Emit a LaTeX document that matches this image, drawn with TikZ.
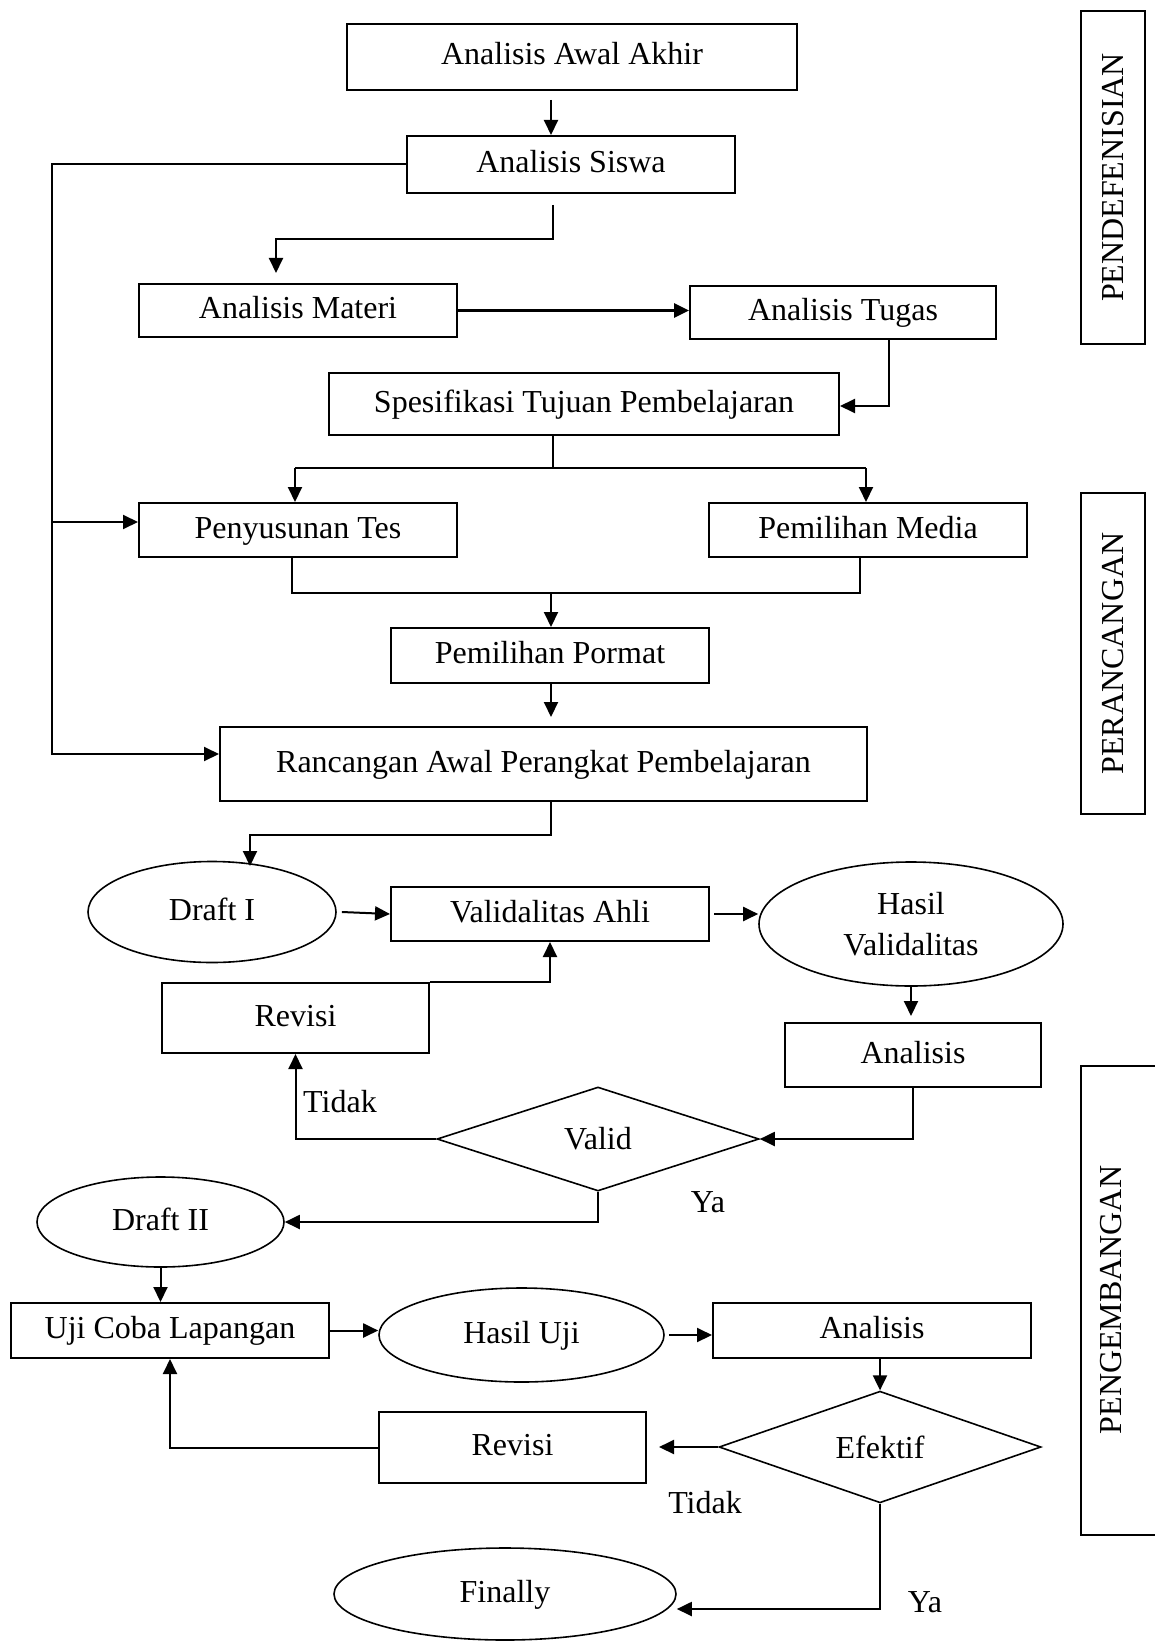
\documentclass[tikz,border=0pt]{standalone}
\usepackage{fontspec}
\setmainfont{Liberation Serif}
\usetikzlibrary{arrows.meta,shapes.geometric}
\begin{document}
\begin{tikzpicture}[x=0.5pt,y=-0.5pt,
  every node/.style={font=\fontsize{16}{20.5}\selectfont},
  box/.style={draw, line width=1pt, rectangle, inner sep=0pt, text height=12pt, text depth=4pt},
  oval/.style={draw, line width=0.8pt, ellipse, inner sep=0pt, text height=12pt, text depth=4pt},
  decide/.style={draw, line width=0.8pt, diamond, inner sep=0pt},
  arr/.style={line width=1pt, -{Triangle[length=7.5pt,width=7pt]}},
  conn/.style={line width=1pt},
  side/.style={draw, line width=1pt, rotate=90, inner sep=0pt},
  lbl/.style={inner sep=0pt}]
\fill[white] (0,0) rectangle (1155,1642);
\useasboundingbox (0,0) rectangle (1155,1642);

% boxes
\node[box, minimum width=225pt, minimum height=33pt] (awal) at (572,57) {Analisis Awal Akhir};
\node[box, minimum width=164pt, minimum height=28.5pt] (siswa) at (571,164.5) {Analisis Siswa};
\node[box, minimum width=159pt, minimum height=26.5pt] (materi) at (298,310.5) {Analisis Materi};
\node[box, minimum width=153pt, minimum height=26.5pt] (tugas) at (843,312.5) {Analisis Tugas};
\node[box, minimum width=255pt, minimum height=31pt] (spes) at (584,404) {Spesifikasi Tujuan Pembelajaran};
\node[box, minimum width=159pt, minimum height=27pt] (tes) at (298,530) {Penyusunan Tes};
\node[box, minimum width=159pt, minimum height=27pt] (media) at (868,530) {Pemilihan Media};
\node[box, minimum width=159pt, minimum height=27.5pt] (pormat) at (550,655.5) {Pemilihan Pormat};
\node[box, minimum width=323.5pt, minimum height=37pt] (rancang) at (543.5,764) {Rancangan Awal Perangkat Pembelajaran};
\node[oval, minimum width=124pt, minimum height=50.5pt] (draft1) at (212,912) {Draft I};
\node[box, minimum width=159pt, minimum height=27pt] (valid) at (550,914) {Validalitas Ahli};
\node[draw, line width=0.8pt, ellipse, inner sep=0pt, minimum width=152pt, minimum height=62pt, align=center] (hasilv) at (911,924) {Hasil\\Validalitas};
\node[box, minimum width=128pt, minimum height=32pt] (analisis1) at (913,1055) {Analisis};
\node[decide, minimum width=161pt, minimum height=52pt] (validd) at (598,1139) {Valid};
\node[box, minimum width=133.5pt, minimum height=35pt] (revisi1) at (295.5,1018) {Revisi};
\node[oval, minimum width=123.5pt, minimum height=45pt] (draft2) at (160.5,1222) {Draft II};
\node[box, minimum width=159pt, minimum height=27.5pt] (uji) at (170,1330.5) {Uji Coba Lapangan};
\node[oval, minimum width=142.5pt, minimum height=47pt] (hasilu) at (521.5,1335) {Hasil Uji};
\node[box, minimum width=159pt, minimum height=27.5pt] (analisis2) at (872,1330.5) {Analisis};
\node[decide, minimum width=161pt, minimum height=52pt] (efektif) at (880,1447) {Efektif};
\node[box, minimum width=133.5pt, minimum height=35.5pt] (revisi2) at (512.5,1447.5) {Revisi};
\node[oval, minimum width=171pt, minimum height=46pt] (finally) at (505,1594) {Finally};

% labels
\node[lbl] (tidak1) at (340,1102) {Tidak};
\node[lbl] (ya1) at (708,1202) {Ya};
\node[lbl] (tidak2) at (705,1503) {Tidak};
\node[lbl] (ya2) at (925,1602) {Ya};

% side phases
\node[side, minimum width=166.5pt, minimum height=32pt] (pendef) at (1113,177.5) {PENDEFENISIAN};
\node[side, minimum width=160.5pt, minimum height=32pt] (peranc) at (1113,653.5) {PERANCANGAN};
\node[draw, line width=1pt, minimum width=42pt, minimum height=234.5pt, inner sep=0pt] (pengbox) at (1123,1300.5) {};
\node[rotate=90] (pengem) at (1111,1300) {PENGEMBANGAN};

% connectors
\coordinate (a1) at (551,100);
\draw[arr] (a1) -- (a1 |- siswa.north);
\coordinate (bus1) at (52,164.5);
\coordinate (bus2) at (52,522);
\coordinate (bus3) at (52,754);
\draw[arr] (siswa.west) -- (bus1) -- (bus3) -- (bus3 -| rancang.west);
\draw[arr] (bus2) -- (bus2 -| tes.west);
\coordinate (b1) at (553,205);
\coordinate (b2) at (276,239);
\coordinate (b3) at (276,273);
\draw[arr] (b1) -- (b1 |- b2) -- (b2) -- (b3);
\draw[arr, line width=1.5pt] (materi.east) -- (materi.east -| tugas.west);
\coordinate (e1) at (889,406);
\draw[arr] (e1 |- tugas.south) -- (e1) -- (e1 -| spes.east);
\coordinate (f1) at (553,468);
\coordinate (f2) at (295,468);
\coordinate (f3) at (866,468);
\draw[conn] (f1 |- spes.south) -- (f1);
\draw[conn] (f2) -- (f3);
\draw[arr] (f2) -- (f2 |- tes.north);
\draw[arr] (f3) -- (f3 |- media.north);
\coordinate (g1) at (292,593);
\coordinate (g2) at (860,593);
\coordinate (g3) at (551,593);
\draw[conn] (g1 |- tes.south) -- (g1) -- (g2) -- (g2 |- media.south);
\draw[arr] (g3) -- (g3 |- pormat.north);
\coordinate (h1) at (551,717);
\draw[arr] (h1 |- pormat.south) -- (h1);
\coordinate (i1) at (551,835);
\coordinate (i2) at (250,835);
\coordinate (i3) at (250,866);
\draw[arr] (i1 |- rancang.south) -- (i1) -- (i2) -- (i3);
\draw[arr] ([xshift=2.5pt]draft1.east) -- (valid.west);
\draw[arr] ([xshift=2pt]valid.east) -- (valid.east -| hasilv.west);
\coordinate (l1) at (911,1016);
\draw[arr] (hasilv.south) -- (l1);
\coordinate (m1) at (913,1139);
\draw[arr] (analisis1.south) -- (m1) -- (validd.east);
\draw[arr] (validd.west) -| (revisi1.south);
\draw[arr] (revisi1.north east) -| (valid.south);
\draw[arr] (validd.south) |- (draft2.east);
\draw[arr] (draft2.south) -- (draft2.south |- uji.north);
\draw[arr] (uji.east) -- (uji.east -| hasilu.west);
\draw[arr] ([xshift=2pt]hasilu.east) -- (hasilu.east -| analisis2.west);
\draw[arr] (efektif.north |- analisis2.south) -- (efektif.north);
\draw[arr, shorten >=6pt] (efektif.west) -- (efektif.west -| revisi2.east);
\draw[arr] (revisi2.west) -| (uji.south);
\coordinate (w1) at (880,1609);
\draw[arr] (efektif.south) -- (w1) -- (w1 -| finally.east);
\end{tikzpicture}
\end{document}
